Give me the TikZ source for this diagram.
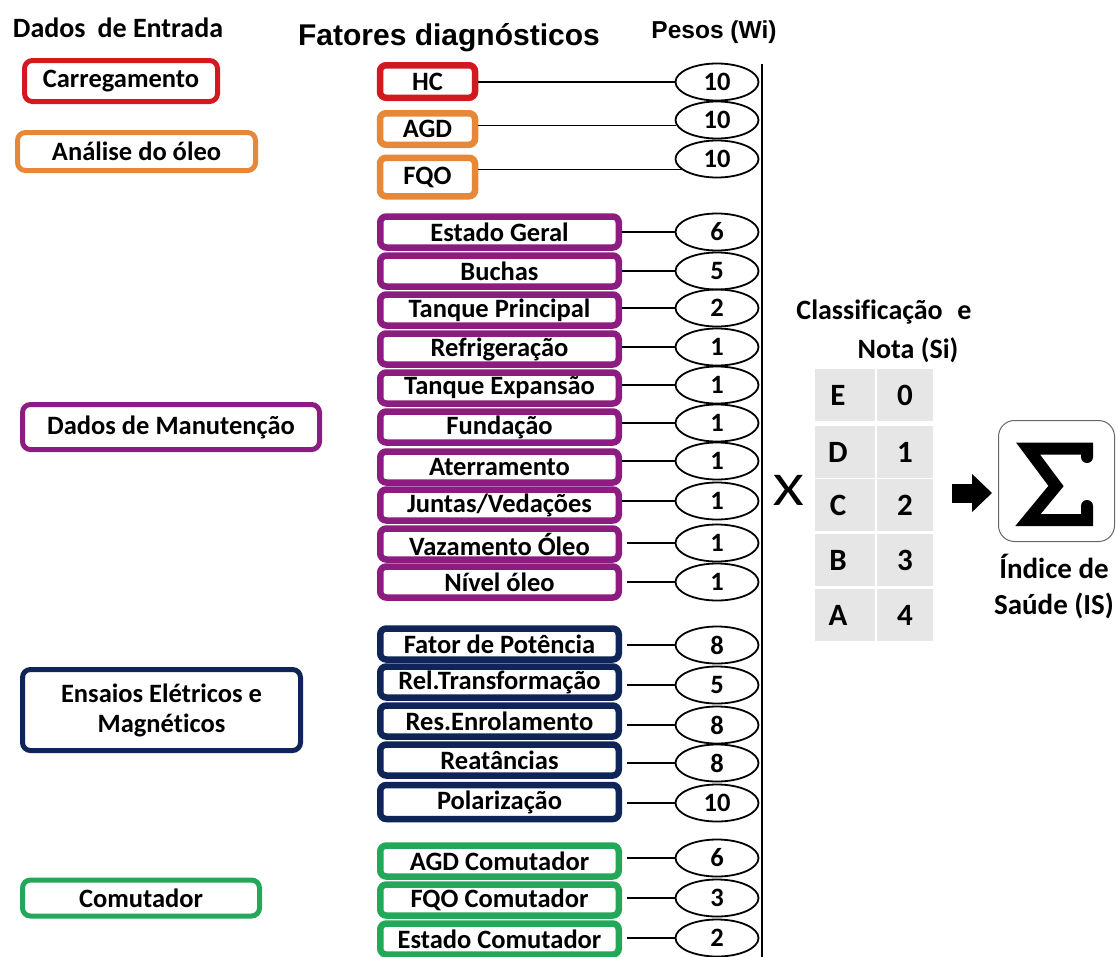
\documentclass[tikz,border=0pt]{standalone}
\usepackage{fontspec}
\setmainfont{Carlito}[Ligatures=NoCommon]
\newfontfamily\arialfont{Liberation Sans}
\usetikzlibrary{arrows.meta,calc,shapes.geometric}
\definecolor{cRed}{HTML}{D2191F}
\definecolor{cOrange}{HTML}{E5883A}
\definecolor{cPurple}{HTML}{8C1C7F}
\definecolor{cNavy}{HTML}{102557}
\definecolor{cGreen}{HTML}{22A858}
\definecolor{cCell}{HTML}{E6E6E6}
\begin{document}
\begin{tikzpicture}[x=1pt,y=-1pt,
  txt/.style={font=\fontsize{26.5}{30}\selectfont\bfseries, text=black, inner sep=0},
  srcbox/.style={txt, draw, line width=5, rounded corners=8, fill=white, align=center},
  facbox/.style={txt, draw, line width=6.5, rounded corners=6, fill=white, minimum height=31},
  widebox/.style={facbox, minimum width=238.5},
  wt/.style={txt, draw, ellipse, line width=1.8, minimum width=83, minimum height=37},
  link/.style={line width=1.3},
  gap/.style={link, shorten <=5},
  cell/.style={fill=cCell, minimum height=52, inner sep=0},
  celltxt/.style={font=\fontsize{31}{34}\selectfont\bfseries, inner sep=0},
  bigtxt/.style={txt, font=\fontsize{28}{38}\selectfont\bfseries, align=center},
]
\useasboundingbox (0,0) rectangle (1118,956);

% column headings
\node[txt, font=\fontsize{28}{30}\selectfont\bfseries] (tIn) at (118,28) {Dados\hspace{0.2em} de Entrada};
\node[inner sep=0, font=\arialfont\fontsize{30}{32}\selectfont\bfseries] (tFat) at (449,38) {Fatores diagnósticos};
\node[inner sep=0, font=\arialfont\fontsize{24.5}{26}\selectfont\bfseries] (tPes) at (714,32) {Pesos (Wi)};

% input data groups
\node[srcbox, draw=cRed, minimum width=193, minimum height=41] (sCar) at (121,81) {Carregamento};
\node[srcbox, draw=cOrange, minimum width=238, minimum height=38] (sOil) at (136.5,151.5) {Análise do óleo};
\node[srcbox, draw=cPurple, minimum width=297, minimum height=45] (sMan) at (171,427) {Dados de Manutenção};
\node[srcbox, draw=cNavy, minimum width=278, minimum height=81] (sEle) at (161.5,710) {Ensaios Elétricos e\\Magnéticos};
\node[srcbox, draw=cGreen, minimum width=237, minimum height=36] (sCom) at (141,898) {Comutador};

% diagnostic factors
\node[facbox, draw=cRed, minimum width=95, minimum height=32.5] (fHC) at (427.5,81.5) {HC};
\node[facbox, draw=cOrange, minimum width=95, minimum height=31.5] (fAGD) at (427.5,129) {AGD};
\node[facbox, draw=cOrange, minimum width=95, minimum height=38.5] (fFQO) at (427.5,177) {FQO};

\node[widebox, draw=cPurple] (fEG) at (499.5,232) {Estado Geral};
\node[widebox, draw=cPurple] (fBu) at (499.5,271) {Buchas};
\node[widebox, draw=cPurple] (fTP) at (499.5,310) {Tanque Principal};
\node[widebox, draw=cPurple] (fRe) at (499.5,349) {Refrigeração};
\node[widebox, draw=cPurple] (fTE) at (499.5,388) {Tanque Expansão};
\node[widebox, draw=cPurple] (fFu) at (499.5,427) {Fundação};
\node[widebox, draw=cPurple] (fAt) at (499.5,467) {Aterramento};
\node[widebox, draw=cPurple] (fJV) at (499.5,505) {Juntas/Vedações};
\node[widebox, draw=cPurple] (fVO) at (499.5,544) {Vazamento Óleo};
\node[widebox, draw=cPurple] (fNO) at (499.5,582) {Nível óleo};

\node[widebox, draw=cNavy] (fFP) at (499.5,644) {Fator de Potência};
\node[widebox, draw=cNavy] (fRT) at (499.5,682) {Rel.Transformação};
\node[widebox, draw=cNavy] (fRE) at (499.5,721) {Res.Enrolamento};
\node[widebox, draw=cNavy] (fRt) at (499.5,760) {Reatâncias};
\node[widebox, draw=cNavy, minimum height=34] (fPo) at (499.5,802) {Polarização};

\node[widebox, draw=cGreen] (fAC) at (499.5,861) {AGD Comutador};
\node[widebox, draw=cGreen] (fFC) at (499.5,900) {FQO Comutador};
\node[widebox, draw=cGreen] (fEC) at (499.5,939) {Estado Comutador};

% weights
\node[wt] (wHC) at (717,82) {10};
\node[wt] (wAGD) at (717,120) {10};
\node[wt] (wFQO) at (717,159) {10};
\node[wt] (wEG) at (717,232) {6};
\node[wt] (wBu) at (717,271) {5};
\node[wt] (wTP) at (717,308) {2};
\node[wt] (wRe) at (717,347) {1};
\node[wt] (wTE) at (717,385) {1};
\node[wt] (wFu) at (717,423) {1};
\node[wt] (wAt) at (717,461) {1};
\node[wt] (wJV) at (717,501) {1};
\node[wt] (wVO) at (717,543) {1};
\node[wt] (wNO) at (717,582) {1};
\node[wt] (wFP) at (717,645) {8};
\node[wt] (wRT) at (717,685) {5};
\node[wt] (wRE) at (717,725) {8};
\node[wt] (wRt) at (717,763) {8};
\node[wt] (wPo) at (717,803) {10};
\node[wt] (wAC) at (717,858) {6};
\node[wt] (wFC) at (717,898) {3};
\node[wt] (wEC) at (717,938) {2};

% factor-to-weight links (horizontal, at the weight's height)
\draw[link] (fHC.east |- wHC.west) -- (wHC.west);
\draw[link] (fAGD.east |- wAGD.188) -- (wAGD.188);
\draw[link] (fFQO.east |- wFQO.197) -- (wFQO.197);
\foreach \k in {EG,Bu,TP,Re,TE,Fu,At,JV}
  \draw[link] (f\k.east |- w\k.west) -- (w\k.west);
\foreach \k in {VO,NO,FP,RT,RE,Rt,Po,AC,FC,EC}
  \draw[gap] (f\k.east |- w\k.west) -- (w\k.west);

% weight bar
\coordinate (barTop) at (762,64);
\coordinate (barBot) at (762,960);
\draw[line width=2.5] (barTop) -- (barBot);

% multiplication sign
\node[inner sep=0, font=\fontsize{47}{50}\selectfont] (mul) at (789,490) {\scalebox{1.25}[1]{X}};

% classification and score
\node[bigtxt] (tCla) at (884,312) {Classificação\hspace{0.3em} e};
\node[bigtxt] (tNota) at (908,350) {Nota (Si)};

\node[cell, minimum width=60] (cE) at (845,395) {};
\node[cell, minimum width=56] (sE) at (905,395) {};
\node[cell, minimum width=60] (cD) at (845,452) {};
\node[cell, minimum width=56] (sD) at (905,452) {};
\node[cell, minimum width=60] (cC) at (845,505) {};
\node[cell, minimum width=56] (sC) at (905,505) {};
\node[cell, minimum width=60] (cB) at (845,560) {};
\node[cell, minimum width=56] (sB) at (905,560) {};
\node[cell, minimum width=60] (cA) at (845,615) {};
\node[cell, minimum width=56] (sA) at (905,615) {};
\foreach \r/\l/\v in {E/E/0, D/D/1, C/C/2, B/B/3, A/A/4} {
  \node[celltxt] at ([xshift=-7]c\r.center) {\l};
  \node[celltxt] at (s\r.center) {\v};
}

% sum block
\node[draw=black!60, line width=1, rounded corners=16, minimum width=116, minimum height=121, inner sep=0] (sig) at (1056.5,481) {};
\draw[line width=12, line cap=round, line join=miter]
  (1087,457) -- (1087,448.5) -- (1028,448.5) -- (1056,486) -- (1028,520) -- (1087,520) -- (1087,506);
\coordinate (arrS) at (952,493);
\draw[line width=19, -{Triangle[length=20, width=37]}, shorten >=6] (arrS) -- (sig.west |- arrS);

\node[bigtxt, font=\fontsize{29}{36}\selectfont\bfseries] (tIS) at (1054,587) {Índice de\\Saúde (IS)};
\end{tikzpicture}
\end{document}
